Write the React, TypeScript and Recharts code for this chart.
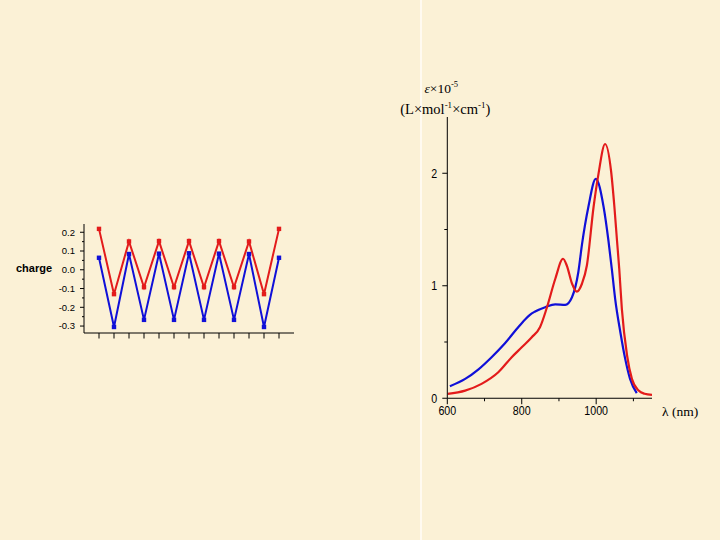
import React from 'react';
import { LineChart, Line, XAxis, YAxis, Label } from 'recharts';

// left panel: atomic charges along the chain
const siteIndex = [1, 2, 3, 4, 5, 6, 7, 8, 9, 10, 11, 12, 13];
const chargeRed = [0.218, -0.13, 0.151, -0.093, 0.153, -0.093, 0.153, -0.093, 0.153, -0.093, 0.151, -0.13, 0.218];
const chargeBlue = [0.064, -0.305, 0.084, -0.267, 0.086, -0.267, 0.088, -0.267, 0.086, -0.267, 0.084, -0.305, 0.064];
const chargeTicks = [-0.3, -0.25, -0.2, -0.15, -0.1, -0.05, 0, 0.05, 0.1, 0.15, 0.2];

// right panel: absorption spectra
const blueNm = [607, 648, 683, 719, 755, 787, 809, 822, 836, 863, 890, 917, 935, 952, 962, 979, 999, 1020, 1033, 1042, 1051, 1065, 1078, 1091, 1109];
const blueEps = [0.107, 0.172, 0.255, 0.365, 0.489, 0.617, 0.7, 0.742, 0.771, 0.809, 0.835, 0.83, 0.898, 1.12, 1.37, 1.7, 1.95, 1.7, 1.4, 1.15, 0.884, 0.587, 0.35, 0.172, 0.045];
const redNm = [601, 648, 692, 737, 773, 800, 827, 849, 867, 890, 911, 921, 935, 948, 962, 975, 993, 1006, 1024, 1040, 1049, 1056, 1062, 1069, 1083, 1096, 1114, 1130, 1150];
const redEps = [0.039, 0.068, 0.128, 0.231, 0.365, 0.453, 0.542, 0.631, 0.8, 1.06, 1.24, 1.18, 1.02, 0.948, 1.02, 1.18, 1.7, 1.99, 2.26, 2.02, 1.7, 1.4, 1.15, 0.795, 0.38, 0.172, 0.068, 0.04, 0.03];
const epsTicks = [0, 0.5, 1, 1.5, 2];
const nmTicks = [600, 700, 800, 900, 1000, 1100];

const RED = '#e31b1b';
const BLUE = '#1010d8';
const SANS = '"Liberation Sans", Arial, sans-serif';
const SERIF = '"Liberation Serif", "Times New Roman", serif';

const chargeData = siteIndex.map((s, i) => ({ site: s, red: chargeRed[i], blue: chargeBlue[i] }));
const blueData = blueNm.map((nm, i) => ({ nm, eps: blueEps[i] }));
const redData = redNm.map((nm, i) => ({ nm, eps: redEps[i] }));

const isMajor = (v: number, step: number) => Math.abs(v / step - Math.round(v / step)) < 1e-6;

const ChargeYTick = (props: any) => {
  const { x, y, payload } = props;
  const v = payload.value as number;
  const major = isMajor(v, 0.1);
  return (
    <g>
      <line x1={x - (major ? 4 : 2)} x2={x} y1={y} y2={y} stroke="#000" />
      {major && (
        <text x={x - 9} y={y + 3.3} textAnchor="end" fontSize={9.5} fontFamily={SANS} fill="#000">
          {v.toFixed(1)}
        </text>
      )}
    </g>
  );
};

const ChargeXTick = (props: any) => {
  const { x, y } = props;
  return <line x1={x} x2={x} y1={y} y2={y + 5.5} stroke="#000" />;
};

// condensed-looking labels for the spectrum axes
const NarrowText = ({ x, y, anchor, children }: any) => (
  <g transform={`translate(${x},${y}) scale(0.82,1)`}>
    <text x={0} y={0} textAnchor={anchor} fontSize={13} fontFamily={SANS} fill="#000">
      {children}
    </text>
  </g>
);

const EpsYTick = (props: any) => {
  const { x, y, payload } = props;
  const v = payload.value as number;
  const major = isMajor(v, 1);
  return (
    <g>
      <line x1={x - (major ? 5 : 3)} x2={x} y1={y} y2={y} stroke="#000" />
      {major && (
        <NarrowText x={x - 10} y={y + 4.5} anchor="end">
          {v}
        </NarrowText>
      )}
    </g>
  );
};

const NmXTick = (props: any) => {
  const { x, y, payload } = props;
  const v = payload.value as number;
  const major = isMajor(v, 200);
  return (
    <g>
      <line x1={x} x2={x} y1={y} y2={y + (major ? 6 : 3)} stroke="#000" />
      {major && (
        <NarrowText x={x} y={y + 17} anchor="middle">
          {v}
        </NarrowText>
      )}
    </g>
  );
};

const squareDot = (color: string) => (props: any) => {
  const { cx, cy, index } = props;
  return <rect key={`sq-${color}-${index}`} x={cx - 2.2} y={cy - 2.2} width={4.4} height={4.4} fill={color} />;
};

const ChargeLabel = (props: any) => {
  const vb = props.viewBox || { x: 44, y: 224, width: 40, height: 109 };
  return (
    <text x={vb.x - 28} y={272} fontSize={11} fontWeight="bold" fontFamily={SANS} fill="#000">
      charge
    </text>
  );
};

const EpsLabel = (props: any) => {
  const vb = props.viewBox || { x: 37, y: 57, width: 30, height: 281 };
  const ax = vb.x + vb.width;
  const top = vb.y;
  return (
    <g fontFamily={SERIF} fill="#000">
      <text x={ax - 6} y={top - 24} textAnchor="middle" fontSize={13.5}>
        <tspan fontStyle="italic">ε</tspan>
        <tspan>×10</tspan>
        <tspan dy={-6} fontSize={8.5}>-5</tspan>
      </text>
      <text x={ax - 2} y={top - 3} textAnchor="middle" fontSize={14.5}>
        <tspan>(L×mol</tspan>
        <tspan dy={-6} fontSize={9}>-1</tspan>
        <tspan dy={6}>×cm</tspan>
        <tspan dy={-6} fontSize={9}>-1</tspan>
        <tspan dy={6}>)</tspan>
      </text>
    </g>
  );
};

const NmLabel = (props: any) => {
  const vb = props.viewBox || { x: 67, y: 338, width: 205, height: 25 };
  return (
    <text x={vb.x + vb.width + 10} y={vb.y + 18} fontSize={13.5} fontFamily={SERIF} fill="#000">
      λ (nm)
    </text>
  );
};

export default function App() {
  return (
    <div
      style={{
        position: 'fixed',
        left: 0,
        top: 0,
        width: 720,
        height: 540,
        background: '#fbf1d6',
        overflow: 'hidden',
      }}
    >
      <div style={{ position: 'absolute', left: 420, top: 0, width: 2, height: 540, background: '#fffaf0' }} />

      <div style={{ position: 'absolute', left: 0, top: 0 }}>
        <LineChart width={320} height={360} data={chargeData} margin={{ top: 224, right: 26, bottom: 7, left: 44 }}>
          <XAxis
            type="number"
            dataKey="site"
            domain={[0, 14]}
            ticks={siteIndex}
            interval={0}
            height={20}
            tickSize={0}
            tickMargin={0}
            tickLine={false}
            tick={<ChargeXTick />}
            axisLine={{ stroke: '#000' }}
          />
          <YAxis
            type="number"
            domain={[-0.337, 0.244]}
            allowDataOverflow
            ticks={chargeTicks}
            interval={0}
            width={40}
            tickSize={0}
            tickMargin={0}
            tickLine={false}
            tick={<ChargeYTick />}
            axisLine={{ stroke: '#000' }}
          >
            <Label content={<ChargeLabel />} />
          </YAxis>
          <Line
            dataKey="blue"
            type="linear"
            stroke={BLUE}
            strokeWidth={2}
            dot={squareDot(BLUE)}
            activeDot={false}
            isAnimationActive={false}
          />
          <Line
            dataKey="red"
            type="linear"
            stroke={RED}
            strokeWidth={2}
            dot={squareDot(RED)}
            activeDot={false}
            isAnimationActive={false}
          />
        </LineChart>
      </div>

      <div style={{ position: 'absolute', left: 380, top: 60 }}>
        <LineChart width={320} height={380} margin={{ top: 57, right: 48, bottom: 16.75, left: 37.3 }}>
          <XAxis
            type="number"
            dataKey="nm"
            domain={[600, 1150]}
            allowDataOverflow
            ticks={nmTicks}
            interval={0}
            height={25}
            tickSize={0}
            tickMargin={0}
            tickLine={false}
            tick={<NmXTick />}
            axisLine={{ stroke: '#000' }}
          >
            <Label content={<NmLabel />} />
          </XAxis>
          <YAxis
            type="number"
            domain={[0, 2.5]}
            allowDataOverflow
            ticks={epsTicks}
            interval={0}
            width={30}
            tickSize={0}
            tickMargin={0}
            tickLine={false}
            tick={<EpsYTick />}
            axisLine={{ stroke: '#000' }}
          >
            <Label content={<EpsLabel />} />
          </YAxis>
          <Line
            data={blueData}
            dataKey="eps"
            type="monotone"
            stroke={BLUE}
            strokeWidth={2.2}
            dot={false}
            activeDot={false}
            isAnimationActive={false}
          />
          <Line
            data={redData}
            dataKey="eps"
            type="monotone"
            stroke={RED}
            strokeWidth={2.2}
            dot={false}
            activeDot={false}
            isAnimationActive={false}
          />
        </LineChart>
      </div>
    </div>
  );
}
